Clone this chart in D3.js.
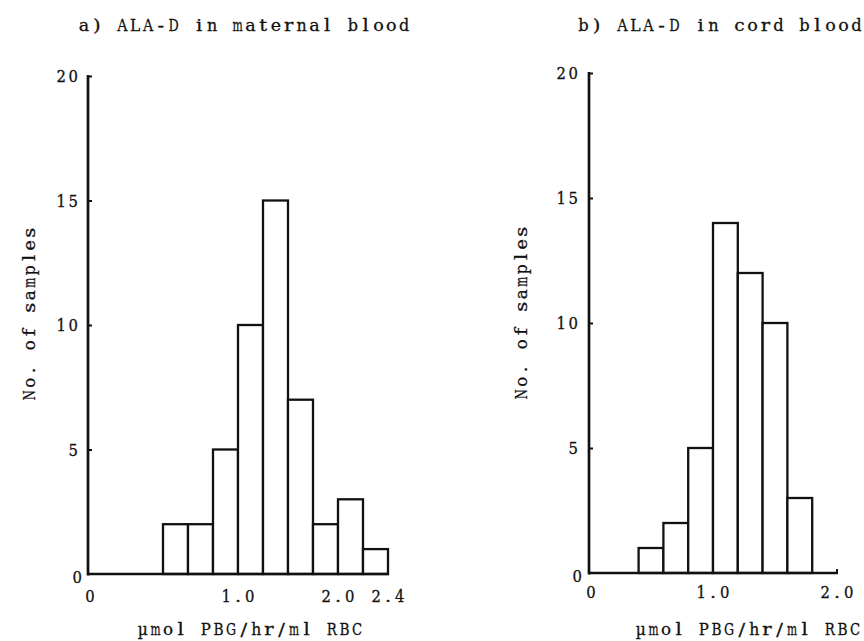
<!DOCTYPE html>
<html>
<head>
<meta charset="utf-8">
<script src="https://cdn.jsdelivr.net/npm/d3@7/dist/d3.min.js"></script>
<style>
  html, body { margin: 0; padding: 0; background: #fff; }
  svg { display: block; }
  text { font-family: "DejaVu Serif", "Liberation Serif", serif; fill: #111; stroke: #111; stroke-width: 0.3px; white-space: pre; }
</style>
</head>
<body>
<svg id="chart" width="864" height="641"></svg>
<script>
// Histogram data: lower bin edges (bins are 0.2 wide) and sample counts
const binWidth = 0.2;
const binsMaternal = [0.6, 0.8, 1.0, 1.2, 1.4, 1.6, 1.8, 2.0, 2.2];
const countsMaternal = [2, 2, 5, 10, 15, 7, 2, 3, 1];
const binsCord = [0.4, 0.6, 0.8, 1.0, 1.2, 1.4, 1.6];
const countsCord = [1, 2, 5, 14, 12, 10, 3];

// Axis labelling
const yTickValues = [0, 5, 10, 15, 20];
const xTickTextMaternal = ["0", "1.0", "2.0", "2.4"];
const xTickAtMaternal = [0, 1.2, 2.0, 2.4];
const xTickTextCord = ["0", "1.0", "2.0"];
const xTickAtCord = [0, 1.0, 2.0];

const titles = ["a) ALA-D in maternal blood", "b) ALA-D in cord blood"];
const xTitle = "\u00b5mol PBG/hr/ml RBC";
const yTitle = "No. of samples";

const svg = d3.select("#chart");

// Typewriter-style text: every character sits in a fixed-pitch cell;
// narrow glyphs are widened a little, wide ones squeezed to fit the cell
function typeText(parent, str, o) {
  const chars = Array.from(str);
  const total = chars.length * o.pitch;
  const start = o.anchor === "middle" ? -total / 2 : o.anchor === "end" ? -total : 0;
  const t = parent.append("text")
    .attr("transform", `translate(${o.x},${o.y})` + (o.rotate ? ` rotate(${o.rotate})` : ""))
    .attr("text-anchor", "middle")
    .attr("font-size", o.size);
  chars.forEach((c, i) => {
    const ts = t.append("tspan")
      .attr("x", (start + o.pitch * (i + 0.5)).toFixed(2))
      .attr("y", 0)
      .text(c);
    if (c === " ") return;
    const w = ts.node().getComputedTextLength();
    const want = Math.min(w * 1.12, o.pitch * 0.8);
    if (Math.abs(want - w) > 0.4) {
      ts.attr("textLength", want.toFixed(2)).attr("lengthAdjust", "spacingAndGlyphs");
    }
  });
  return t;
}

function drawPanel(opts) {
  const g = svg.append("g");
  const x = d3.scaleLinear().domain(opts.xDomain).range(opts.xRange);
  const y = d3.scaleLinear().domain([0, 20]).range(opts.yRange);

  // bars
  g.selectAll("rect.bar")
    .data(opts.bins.map((b, i) => ({ x0: b, x1: b + binWidth, n: opts.counts[i] })))
    .join("rect")
    .attr("class", "bar")
    .attr("x", d => x(d.x0))
    .attr("y", d => y(d.n))
    .attr("width", d => x(d.x1) - x(d.x0))
    .attr("height", d => y(0) - y(d.n))
    .attr("fill", "#fff")
    .attr("stroke", "#111")
    .attr("stroke-width", 2.3);

  // y axis with short inward ticks
  const yAxis = d3.axisRight(y).tickValues(yTickValues.slice(1)).tickSize(4).tickFormat("");
  const ya = g.append("g").attr("transform", `translate(${x(0)},0)`).call(yAxis);
  ya.select(".domain").remove();
  ya.selectAll(".tick line").attr("stroke", "#111").attr("stroke-width", 2);
  g.append("line")
    .attr("x1", x(0)).attr("x2", x(0))
    .attr("y1", y(20) - 1).attr("y2", y(0) + 1.5)
    .attr("stroke", "#111").attr("stroke-width", 2.7);

  // baseline
  g.append("line")
    .attr("x1", x(0)).attr("x2", x(opts.xDomain[1]) + 1)
    .attr("y1", y(0)).attr("y2", y(0))
    .attr("stroke", "#111").attr("stroke-width", 2.7);
  if (opts.endTick) {
    g.append("line")
      .attr("x1", x(opts.xDomain[1])).attr("x2", x(opts.xDomain[1]))
      .attr("y1", y(0)).attr("y2", y(0) - 4)
      .attr("stroke", "#111").attr("stroke-width", 2);
  }

  // y tick labels
  yTickValues.forEach(v => {
    typeText(g, String(v), {
      x: x(0) - opts.yLabelGap + (v === 0 ? 4 : 0),
      y: y(v) + 6 + (v === 0 ? 3 : 0),
      anchor: "end", pitch: 11.8, size: 17
    });
  });

  // x tick labels
  opts.xTickAt.forEach((v, i) => {
    typeText(g, opts.xTickText[i], {
      x: x(v) + (v === 0 ? 2 : 0), y: opts.xTickBase,
      anchor: "middle", pitch: 11.8, size: 17
    });
  });

  // panel title
  typeText(g, opts.title, { x: opts.titleX, y: 31, anchor: "middle", pitch: opts.titlePitch, size: 17.5 });

  // x axis title
  typeText(g, xTitle, { x: opts.xTitleX, y: 635, anchor: "middle", pitch: 12.6, size: 17.5 });

  // y axis title
  typeText(g, yTitle, { x: opts.yTitleX, y: opts.yTitleY, anchor: "middle", pitch: 12.5, size: 17.5, rotate: -90 });
}

drawPanel({
  bins: binsMaternal, counts: countsMaternal,
  xDomain: [0, 2.4], xRange: [88, 388], yRange: [574, 76],
  xTickAt: xTickAtMaternal, xTickText: xTickTextMaternal, xTickBase: 602,
  yLabelGap: 9,
  title: titles[0], titleX: 244, titlePitch: 12.8, xTitleX: 250,
  yTitleX: 35, yTitleY: 314, endTick: false
});

drawPanel({
  bins: binsCord, counts: countsCord,
  xDomain: [0, 2.0], xRange: [589, 837], yRange: [573, 73],
  xTickAt: xTickAtCord, xTickText: xTickTextCord, xTickBase: 598,
  yLabelGap: 10,
  title: titles[1], titleX: 720, titlePitch: 13, xTitleX: 748,
  yTitleX: 527, yTitleY: 313, endTick: true
});
</script>
</body>
</html>
